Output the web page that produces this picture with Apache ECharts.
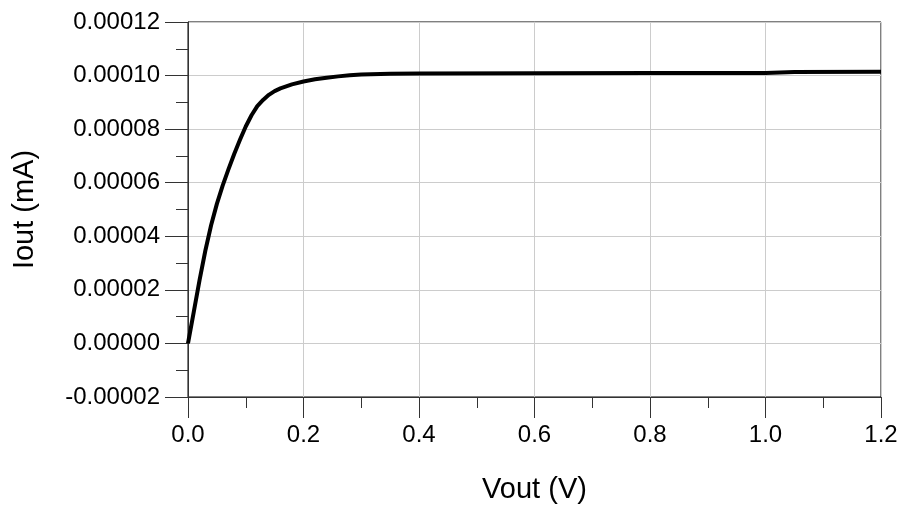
<!DOCTYPE html>
<html>
	<head>
		<title>Iout vs Vout</title>
		<script src="https://cdn.jsdelivr.net/npm/echarts@6/dist/echarts.min.js"></script>
	</head>
	<body style="margin:0;padding:0">
		<div id="main" style="width: 902px;height:508px;"></div>
	</body>
	<script type="text/javascript">
var chart = echarts.init(document.getElementById('main'));

// Vout (V) and Iout (mA)
var vout = [0, 0.01, 0.02, 0.03, 0.04, 0.05, 0.06, 0.07, 0.08, 0.09, 0.1, 0.11, 0.12, 0.13, 0.14, 0.15, 0.16, 0.18, 0.2, 0.22, 0.24, 0.26, 0.28, 0.3, 0.35, 0.4, 0.6, 0.8, 1.0, 1.05, 1.2];
var iout = [0, 0.0000118, 0.0000236, 0.0000346, 0.0000441, 0.0000521, 0.0000589, 0.000065, 0.0000707, 0.000076, 0.000081, 0.0000852, 0.0000886, 0.0000909, 0.0000928, 0.0000942, 0.0000952, 0.0000967, 0.0000978, 0.0000986, 0.0000992, 0.0000997, 0.0001001, 0.0001004, 0.0001007, 0.0001008, 0.0001009, 0.000101, 0.000101, 0.0001013, 0.0001014];

var points = vout.map(function (v, i) { return [v, iout[i]]; });

var font = 'Liberation Sans, Arial, sans-serif';

var option = {
    backgroundColor: '#fff',
    animation: false,
    grid: {
        left: 188,
        right: 21,
        top: 22,
        bottom: 111,
        containLabel: false,
        outerBoundsMode: 'none',
        show: true,
        borderColor: '#000',
        borderWidth: 1
    },
    xAxis: {
        type: 'value',
        min: 0,
        max: 1.2,
        interval: 0.2,
        name: 'Vout (V)',
        nameLocation: 'middle',
        nameGap: 68,
        nameTextStyle: { fontFamily: font, fontSize: 29, color: '#000' },
        axisLine: { show: true, onZero: false, lineStyle: { color: '#333', width: 1 } },
        axisTick: { show: true, length: 21, lineStyle: { color: '#333' } },
        minorTick: { show: true, splitNumber: 2, length: 11, lineStyle: { color: '#333' } },
        axisLabel: {
            margin: 18,
            fontFamily: font,
            fontSize: 24,
            color: '#000',
            formatter: function (v) { return v.toFixed(1); }
        },
        splitLine: { show: true, lineStyle: { color: '#ccc', width: 1 } }
    },
    yAxis: {
        type: 'value',
        min: -0.00002,
        max: 0.00012,
        interval: 0.00002,
        name: 'Iout (mA)',
        nameLocation: 'middle',
        nameGap: 138,
        nameRotate: 90,
        nameTextStyle: { fontFamily: font, fontSize: 29, color: '#000' },
        axisLine: { show: true, onZero: false, lineStyle: { color: '#333', width: 1 } },
        axisTick: { show: true, length: 23, lineStyle: { color: '#333' } },
        minorTick: { show: true, splitNumber: 2, length: 12, lineStyle: { color: '#333' } },
        axisLabel: {
            margin: 28,
            fontFamily: font,
            fontSize: 24,
            color: '#000',
            formatter: function (v) { return v.toFixed(5); }
        },
        splitLine: { show: true, lineStyle: { color: '#ccc', width: 1 } }
    },
    series: [{
        name: 'Iout',
        type: 'line',
        data: points,
        showSymbol: false,
        smooth: false,
        lineStyle: { color: '#000', width: 4, join: 'round' }
    }]
};

chart.setOption(option);
	</script>
</html>
